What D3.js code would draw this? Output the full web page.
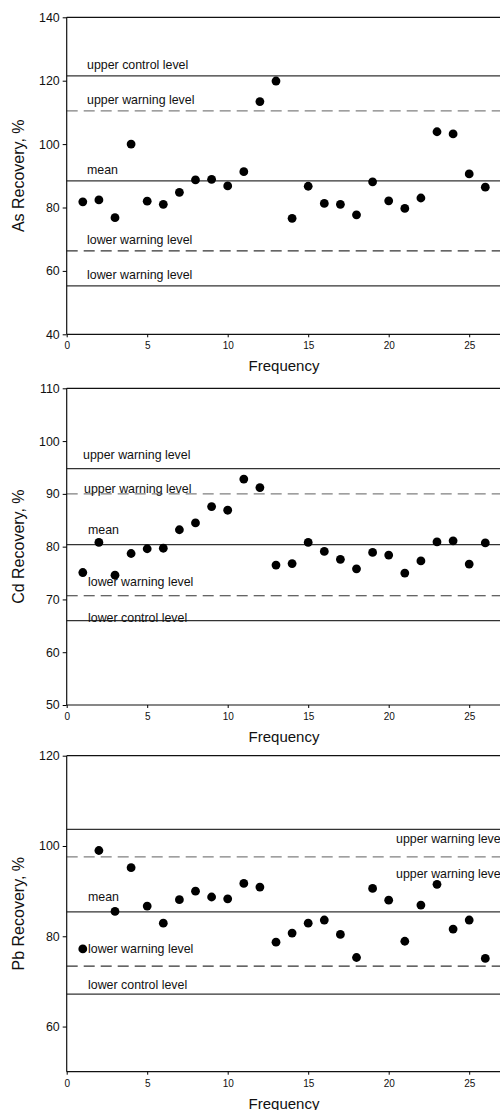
<!DOCTYPE html>
<html lang="en">
<head>
    <meta charset="UTF-8">
    <script src="https://cdn.jsdelivr.net/npm/d3@7"></script>
    <title>Recovery control charts</title>
    <style>
        body { margin: 0; background: white; }
        svg text { font-family: "Liberation Sans", Arial, sans-serif; fill: #111; }
    </style>
</head>
<body>
<div id="chart"></div>
<script>
    // run number 1..26
    const runs = d3.range(1, 27);

    // recovery values per element
    const asValues = [81.8, 82.4, 76.8, 100.0, 82.0, 81.0, 84.8, 88.7, 88.9, 86.8, 91.3, 113.4, 119.9,
        76.6, 86.7, 81.3, 81.0, 77.7, 88.1, 82.1, 79.7, 83.0, 103.9, 103.2, 90.6, 86.4];
    const cdValues = [75.1, 80.8, 74.6, 78.7, 79.6, 79.7, 83.2, 84.5, 87.6, 86.9, 92.8, 91.2, 76.5,
        76.8, 80.8, 79.1, 77.6, 75.8, 78.9, 78.4, 75.0, 77.3, 80.9, 81.1, 76.7, 80.7];
    const pbValues = [77.2, 99.0, 85.5, 95.2, 86.7, 82.9, 88.1, 90.0, 88.7, 88.3, 91.7, 90.9, 78.7,
        80.7, 82.9, 83.6, 80.4, 75.3, 90.6, 88.0, 78.9, 86.9, 91.5, 81.6, 83.6, 75.1];

    // control levels: upper control, upper warning, mean, lower warning, lower control
    const asLevels = [121.5, 110.5, 88.4, 66.3, 55.3];
    const cdLevels = [94.8, 90.0, 80.4, 70.7, 66.0];
    const pbLevels = [103.7, 97.6, 85.4, 73.4, 67.2];

    // the level labels as printed on each chart
    const asLabels = ["upper control level", "upper warning level", "mean", "lower warning level", "lower warning level"];
    const cdLabels = ["upper warning level", "upper warning level", "mean", "lower warning level", "lower control level"];
    const pbLabels = ["upper warning level", "upper warning level", "mean", "lower warning level", "lower control level"];

    const asTicks = [40, 60, 80, 100, 120, 140];
    const cdTicks = [50, 60, 70, 80, 90, 100, 110];
    const pbTicks = [60, 80, 100, 120];
    const xTicks = [0, 5, 10, 15, 20, 25];

    const svg = d3.select("#chart").append("svg")
        .attr("width", 500)
        .attr("height", 1110);

    const x = d3.scaleLinear().domain([0, 27]).range([66.7, 501.4]);

    // one panel of the figure
    function drawPanel(cfg) {
        const y = d3.scaleLinear().domain(cfg.domain).range([cfg.bottom, cfg.top]);
        const g = svg.append("g");

        // level lines
        const styles = [
            {dash: null, color: "#333"},
            {dash: "11,6", color: "#808080"},
            {dash: null, color: "#333"},
            {dash: "11,6", color: "#333"},
            {dash: null, color: "#333"}
        ];
        cfg.levels.forEach((v, i) => {
            g.append("line")
                .attr("x1", x(0)).attr("x2", 500)
                .attr("y1", y(v)).attr("y2", y(v))
                .attr("stroke", styles[i].color)
                .attr("stroke-width", 1.2)
                .attr("stroke-dasharray", styles[i].dash);
        });

        // level labels
        cfg.labels.forEach((t, i) => {
            const p = cfg.labelPos[i];
            g.append("text")
                .attr("x", p[0])
                .attr("y", y(cfg.levels[i]) + p[1])
                .attr("font-size", 12.4)
                .attr("text-anchor", p[2] || "start")
                .text(t);
        });

        // top frame
        g.append("line")
            .attr("x1", x(0)).attr("x2", 500)
            .attr("y1", cfg.top).attr("y2", cfg.top)
            .attr("stroke", "#111").attr("stroke-width", 1.2);

        // axes
        const yAxis = g.append("g")
            .attr("transform", `translate(${x(0)},0)`)
            .call(d3.axisLeft(y).tickValues(cfg.ticks).tickSize(4).tickPadding(3));
        yAxis.selectAll("text").attr("font-size", 12.4).attr("font-family", "Liberation Sans, Arial, sans-serif");
        yAxis.select(".domain").attr("d", `M0,${cfg.top}V${cfg.bottom}`).attr("stroke", "#111").attr("stroke-width", 1.2);

        const xAxis = g.append("g")
            .attr("transform", `translate(0,${cfg.bottom})`)
            .call(d3.axisBottom(x).tickValues(xTicks).tickSize(3).tickPadding(5));
        xAxis.selectAll("text").attr("font-size", 10).attr("font-family", "Liberation Sans, Arial, sans-serif");
        xAxis.select(".domain").attr("d", `M${x(0)},0H500`).attr("stroke", "#111").attr("stroke-width", 1.2);

        // axis titles
        g.append("text")
            .attr("x", 284)
            .attr("y", cfg.bottom + 37)
            .attr("text-anchor", "middle")
            .attr("font-size", 15)
            .text("Frequency");
        g.append("text")
            .attr("transform", `translate(23.5,${(cfg.top + cfg.bottom) / 2}) rotate(-90)`)
            .attr("text-anchor", "middle")
            .attr("font-size", 16)
            .text(cfg.title);

        // points
        g.selectAll("circle")
            .data(cfg.values)
            .enter()
            .append("circle")
            .attr("cx", (d, i) => x(runs[i]))
            .attr("cy", d => y(d))
            .attr("r", 4.4)
            .attr("fill", "#000");
    }

    drawPanel({
        title: "As Recovery, %", domain: [40, 140], top: 17.3, bottom: 334.3,
        values: asValues, levels: asLevels, labels: asLabels, ticks: asTicks,
        labelPos: [[87, -7], [87, -7], [87, -7], [87, -7], [87, -7]]
    });
    drawPanel({
        title: "Cd Recovery, %", domain: [50, 110], top: 388.3, bottom: 705,
        values: cdValues, levels: cdLevels, labels: cdLabels, ticks: cdTicks,
        labelPos: [[83, -10], [84, -1], [88, -11], [88, -10], [88, 1.5]]
    });
    drawPanel({
        title: "Pb Recovery, %", domain: [50, 120], top: 755.7, bottom: 1071.7,
        values: pbValues, levels: pbLevels, labels: pbLabels, ticks: pbTicks,
        labelPos: [[396, 14], [396, 21], [88, -11], [88, -13], [88, -5]]
    });
</script>
</body>
</html>
